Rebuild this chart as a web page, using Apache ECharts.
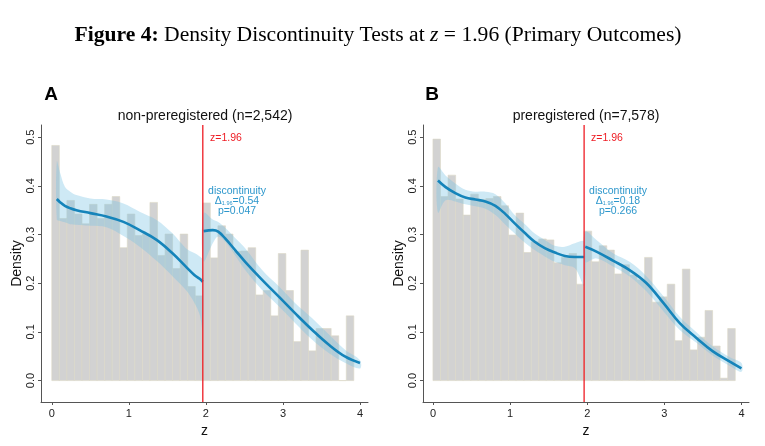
<!DOCTYPE html>
<html>
<head>
<meta charset="utf-8">
<script src="https://cdn.jsdelivr.net/npm/echarts@6/dist/echarts.min.js"></script>
<style>
html,body{margin:0;padding:0;background:#fff;}
#chart{width:765px;height:446px;}
</style>
</head>
<body>
<div id="chart"></div>
<script>
// ---------- data ----------
const binWidth = 0.098;
const cutoff = 1.96;
const xTicks = [0, 1, 2, 3, 4];
const yTicks = [0, 0.1, 0.2, 0.3, 0.4, 0.5];

// Panel A: non-preregistered
const histA_left  = [0.483, 0.333, 0.370, 0.342, 0.322, 0.362, 0.333, 0.362, 0.378, 0.273,
                     0.342, 0.298, 0.301, 0.366, 0.257, 0.301, 0.230, 0.301, 0.193, 0.174];
const histA_right = [0.365, 0.252, 0.318, 0.301, 0.265, 0.266, 0.273, 0.176, 0.185, 0.133,
                     0.261, 0.185, 0.080, 0.268, 0.061, 0.107, 0.107, 0.092, 0.000, 0.133];
const fitA_left_x  = [0.065, 0.11, 0.17, 0.24, 0.32, 0.50, 0.71, 0.93, 1.14, 1.36, 1.57, 1.74, 1.85, 1.92, 1.96];
const fitA_left_y  = [0.373, 0.366, 0.359, 0.354, 0.350, 0.344, 0.337, 0.326, 0.309, 0.289, 0.261, 0.234, 0.217, 0.209, 0.203];
const ciA_left_hi  = [0.450, 0.426, 0.398, 0.388, 0.381, 0.374, 0.372, 0.364, 0.347, 0.330, 0.302, 0.272, 0.262, 0.255, 0.248];
const ciA_left_lo  = [0.331, 0.328, 0.325, 0.321, 0.320, 0.318, 0.315, 0.297, 0.275, 0.246, 0.214, 0.186, 0.160, 0.135, 0.100];
const fitA_right_x = [1.97, 2.09, 2.16, 2.25, 2.38, 2.51, 2.73, 2.95, 3.16, 3.38, 3.60, 3.81, 4.00];
const fitA_right_y = [0.307, 0.309, 0.306, 0.292, 0.268, 0.244, 0.207, 0.172, 0.138, 0.104, 0.073, 0.049, 0.036];
const ciA_right_hi = [0.344, 0.331, 0.326, 0.314, 0.293, 0.272, 0.227, 0.193, 0.159, 0.128, 0.094, 0.063, 0.042];
const ciA_right_lo = [0.245, 0.282, 0.296, 0.285, 0.257, 0.227, 0.186, 0.152, 0.118, 0.084, 0.056, 0.036, 0.025];

// Panel B: preregistered
const histB_left  = [0.496, 0.378, 0.422, 0.373, 0.340, 0.383, 0.372, 0.374, 0.378, 0.359,
                     0.299, 0.344, 0.263, 0.285, 0.291, 0.289, 0.242, 0.253, 0.261, 0.198];
const histB_right = [0.307, 0.244, 0.277, 0.268, 0.219, 0.238, 0.217, 0.207, 0.253, 0.161,
                     0.172, 0.198, 0.082, 0.229, 0.063, 0.089, 0.144, 0.071, 0.005, 0.107];
const fitB_left_x  = [0.065, 0.16, 0.29, 0.42, 0.55, 0.68, 0.81, 0.94, 1.06, 1.20, 1.32, 1.45, 1.58, 1.71, 1.84, 1.96];
const fitB_left_y  = [0.411, 0.398, 0.385, 0.376, 0.372, 0.368, 0.359, 0.342, 0.323, 0.302, 0.285, 0.272, 0.263, 0.256, 0.254, 0.254];
const ciB_left_hi  = [0.438, 0.422, 0.405, 0.392, 0.388, 0.388, 0.383, 0.364, 0.340, 0.320, 0.302, 0.289, 0.277, 0.275, 0.282, 0.285];
const ciB_left_lo  = [0.345, 0.370, 0.368, 0.362, 0.358, 0.353, 0.340, 0.320, 0.302, 0.282, 0.268, 0.255, 0.244, 0.237, 0.231, 0.195];
const fitB_right_x = [1.975, 2.12, 2.34, 2.55, 2.77, 2.99, 3.20, 3.42, 3.63, 3.85, 4.00];
const fitB_right_y = [0.275, 0.265, 0.246, 0.227, 0.200, 0.159, 0.118, 0.087, 0.060, 0.039, 0.025];
const ciB_right_hi = [0.306, 0.289, 0.261, 0.244, 0.214, 0.173, 0.131, 0.099, 0.070, 0.048, 0.036];
const ciB_right_lo = [0.244, 0.251, 0.234, 0.214, 0.183, 0.142, 0.104, 0.077, 0.051, 0.030, 0.018];

const panelLetters = ['A', 'B'];
const panelTitles = ['non-preregistered (n=2,542)', 'preregistered (n=7,578)'];
const discDelta = ['0.54', '0.18'];
const discP = ['0.047', '0.266'];

// ---------- styles ----------
const SANS = '"Liberation Sans", Arial, sans-serif';
const SERIF = '"Liberation Serif", "Times New Roman", serif';
const BAR_FILL = '#d2d2d2';
const BAR_EDGE = '#dbd8c6';
const FIT_COLOR = '#1584ba';
const CI_COLOR = 'rgba(120,195,228,0.36)';
const RED = '#ee1c24';
const ANN_COLOR = '#2d97cc';

const grids = [
  {left: 41, top: 125, width: 327, height: 277},
  {left: 423, top: 125, width: 326, height: 277}
];
const xRanges = [[-0.14, 4.104], [-0.129, 4.098]];

function histData(left, right) {
  const out = [];
  left.forEach((h, i) => out.push([i * binWidth, (i + 1) * binWidth, h]));
  right.forEach((h, i) => out.push([cutoff + i * binWidth, cutoff + (i + 1) * binWidth, h]));
  return out;
}
function pairs(xs, ys) { return xs.map((x, i) => [x, ys[i]]); }

function histSeries(idx, data) {
  return {
    type: 'custom', xAxisIndex: idx, yAxisIndex: idx, silent: true, z: 1,
    data: data,
    encode: {x: [0, 1], y: 2},
    renderItem: function (params, api) {
      const p0 = api.coord([api.value(0), api.value(2)]);
      const p1 = api.coord([api.value(1), 0]);
      return {
        type: 'rect',
        shape: {x: p0[0], y: p0[1], width: p1[0] - p0[0], height: p1[1] - p0[1]},
        style: {fill: BAR_FILL, stroke: BAR_EDGE, lineWidth: 0.6}
      };
    }
  };
}
// confidence band: one polygon built from (x, hi) forward and (x, lo) backward
function bandSeries(idx, xs, lo, hi) {
  const data = xs.map((x, i) => [x, lo[i], hi[i]]);
  return {
    type: 'custom', xAxisIndex: idx, yAxisIndex: idx, silent: true, z: 2,
    data: data,
    encode: {x: 0, y: [1, 2]},
    renderItem: function (params, api) {
      if (params.dataIndex !== 0) return null;
      const upper = data.map(d => api.coord([d[0], d[2]]));
      const lower = data.map(d => api.coord([d[0], d[1]])).reverse();
      return {
        type: 'polygon',
        shape: {points: upper.concat(lower), smooth: 0.35},
        style: {fill: CI_COLOR, stroke: null}
      };
    }
  };
}
function fitSeries(idx, xs, ys) {
  return {
    type: 'line', xAxisIndex: idx, yAxisIndex: idx, smooth: 0.4,
    showSymbol: false, silent: true, z: 4,
    lineStyle: {color: FIT_COLOR, width: 2.6}, data: pairs(xs, ys)
  };
}
function cutSeries(idx) {
  return {
    type: 'line', xAxisIndex: idx, yAxisIndex: idx, silent: true, z: 10,
    data: [[cutoff, -0.044], [cutoff, 0.525]],
    showSymbol: false,
    lineStyle: {color: RED, width: 1.3}
  };
}

const xAxes = [0, 1].map(i => ({
  gridIndex: i, type: 'value', min: xRanges[i][0], max: xRanges[i][1],
  name: 'z', nameLocation: 'middle', nameGap: 18,
  nameTextStyle: {fontFamily: SANS, fontSize: 14, color: '#111'},
  axisLine: {show: true, onZero: false, lineStyle: {color: '#555', width: 1}},
  axisTick: {show: true, length: 3, customValues: xTicks, lineStyle: {color: '#555'}},
  axisLabel: {customValues: xTicks, fontFamily: SANS, fontSize: 11, color: '#222', margin: 6},
  splitLine: {show: false}
}));
const yAxes = [0, 1].map(i => ({
  gridIndex: i, type: 'value', min: -0.044, max: 0.525,
  name: 'Density', nameLocation: 'middle', nameGap: 16, nameRotate: 90,
  nameTextStyle: {fontFamily: SANS, fontSize: 14, color: '#111'},
  axisLine: {show: true, onZero: false, lineStyle: {color: '#555', width: 1}},
  axisTick: {show: true, length: 3, customValues: yTicks, lineStyle: {color: '#555'}},
  axisLabel: {customValues: yTicks, rotate: 90, fontFamily: SANS, fontSize: 11, color: '#222', margin: 5,
              formatter: v => v.toFixed(1)},
  splitLine: {show: false}
}));

const series = [
  histSeries(0, histData(histA_left, histA_right)),
  bandSeries(0, fitA_left_x, ciA_left_lo, ciA_left_hi),
  bandSeries(0, fitA_right_x, ciA_right_lo, ciA_right_hi),
  fitSeries(0, fitA_left_x, fitA_left_y),
  fitSeries(0, fitA_right_x, fitA_right_y),
  cutSeries(0),
  histSeries(1, histData(histB_left, histB_right)),
  bandSeries(1, fitB_left_x, ciB_left_lo, ciB_left_hi),
  bandSeries(1, fitB_right_x, ciB_right_lo, ciB_right_hi),
  fitSeries(1, fitB_left_x, fitB_left_y),
  fitSeries(1, fitB_right_x, fitB_right_y),
  cutSeries(1)
];

const graphics = [
  {
    type: 'text', x: 378, y: 35,
    style: {
      text: '{b|Figure 4:}{r| Density Discontinuity Tests at }{i|z}{r| = 1.96 (Primary Outcomes)}',
      align: 'center', verticalAlign: 'middle',
      rich: {
        b: {fontFamily: SERIF, fontSize: 21.6, fontWeight: 'bold', fill: '#000'},
        r: {fontFamily: SERIF, fontSize: 21.6, fill: '#000'},
        i: {fontFamily: SERIF, fontSize: 21.6, fontStyle: 'italic', fill: '#000'}
      }
    }
  }
];
const letterX = [51, 432];
const subX = [205, 586];
const zLabX = [210, 591];
const annX = [237, 618];
[0, 1].forEach(i => {
  graphics.push({type: 'text', x: letterX[i], y: 95,
    style: {text: panelLetters[i], fontFamily: SANS, fontSize: 19, fontWeight: 'bold', fill: '#000',
            align: 'center', verticalAlign: 'middle'}});
  graphics.push({type: 'text', x: subX[i], y: 116,
    style: {text: panelTitles[i], fontFamily: SANS, fontSize: 14, fill: '#111',
            align: 'center', verticalAlign: 'middle'}});
  graphics.push({type: 'text', x: zLabX[i], y: 138, z: 20,
    style: {text: 'z=1.96', fontFamily: SANS, fontSize: 10.5, fill: RED,
            align: 'left', verticalAlign: 'middle'}});
  graphics.push({type: 'text', x: annX[i], y: 186, z: 20,
    style: {
      text: '{a|discontinuity}\n{a|Δ}{s|1.96}{a|=' + discDelta[i] + '}\n{a|p=' + discP[i] + '}',
      align: 'center', verticalAlign: 'top',
      rich: {
        a: {fontFamily: SANS, fontSize: 10.5, fill: ANN_COLOR, lineHeight: 10},
        s: {fontFamily: SANS, fontSize: 5.5, fill: ANN_COLOR, lineHeight: 10, verticalAlign: 'bottom', padding: [4, 0, 0, 0]}
      }
    }});
});

const chart = echarts.init(document.getElementById('chart'), null, {renderer: 'canvas'});
chart.setOption({
  animation: false,
  backgroundColor: '#fff',
  grid: grids,
  xAxis: xAxes,
  yAxis: yAxes,
  series: series,
  graphic: graphics
});
</script>
</body>
</html>
